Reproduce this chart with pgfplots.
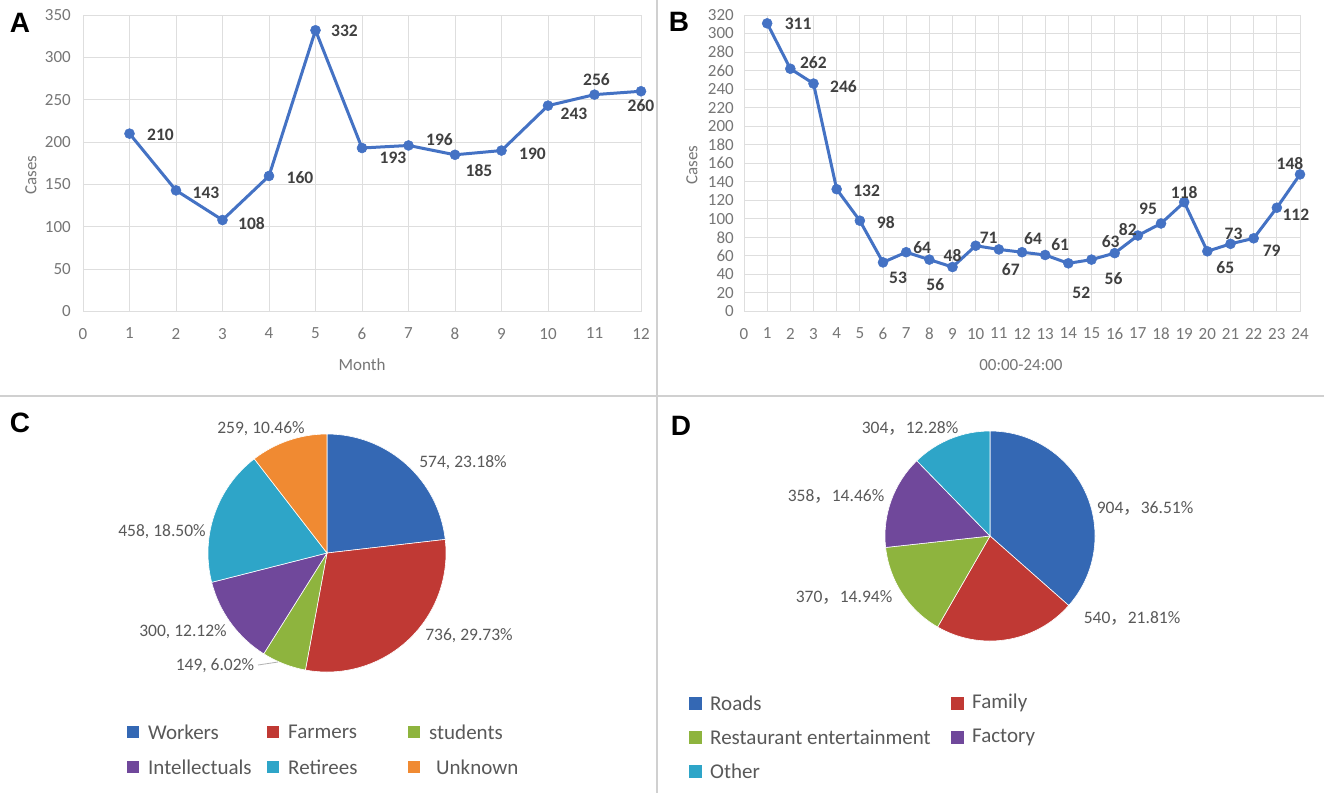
\documentclass[border=0pt]{standalone}
\usepackage{pgfplots}
\pgfplotsset{compat=1.18}
\usepackage{pgfplotstable}
\usepackage{fontspec}
\setmainfont{Carlito}
\newfontfamily\letterfont{Liberation Sans}
\newfontfamily\cjk{Noto Sans CJK SC}
\definecolor{lineblue}{RGB}{68,114,196}
\definecolor{gridc}{RGB}{222,222,222}
\definecolor{tickc}{RGB}{118,118,118}
\definecolor{labc}{RGB}{64,64,64}
\definecolor{pietxt}{RGB}{89,89,89}
\definecolor{divc}{RGB}{208,208,208}
\definecolor{pBlue}{RGB}{52,104,180}
\definecolor{pRed}{RGB}{192,57,52}
\definecolor{pGreen}{RGB}{142,180,62}
\definecolor{pPurple}{RGB}{112,72,155}
\definecolor{pAqua}{RGB}{46,165,200}
\definecolor{pOrange}{RGB}{240,138,50}

\pgfplotstableread{
x y dx up
1 210 31 -1
2 143 30 -2
3 108 29 -4
4 160 31 -2
5 332 29 -1
6 193 31 -10
7 196 31 6
8 185 24 -16
9 190 31 -3
10 243 26 -8
11 256 2 15
12 260 0 -14
}\dataA

\pgfplotstableread{
x y dx up
1 311 31 0
2 262 23 6
3 246 30 -3
4 132 30 -2
5 98 26 -2
6 53 15 -15
7 64 16 5
8 56 6 -25
9 48 0 12
10 71 13 8
11 67 12 -20
12 64 11 14
13 61 15 10
14 52 13 -29
15 56 22 -19
16 63 -4 12
17 82 -10 6
18 95 -13 15
19 118 0 10
20 65 18 -16
21 73 3 10
22 79 18 -12
23 112 19 -7
24 148 -10 11
}\dataB

\newcommand{\tickfont}{\fontsize{17}{20}\selectfont}
\pgfplotsset{
  linepanel/.style={
    scale only axis, anchor=south west,
    grid=major, grid style={gridc, line width=1pt},
    axis line style={draw=none}, major tick length=0pt,
    tick label style={font=\tickfont, text=tickc},
    /pgf/number format/assume math mode=true,
    xticklabel style={yshift=-13pt},
    label style={font=\tickfont, text=tickc},
    clip=false,
  },
  lineplot/.style={lineblue, line width=3pt, mark=*, mark size=5pt,
    mark options={fill=lineblue, draw=lineblue, line width=0.5pt},
    visualization depends on={\thisrow{dx} \as \dx},
    visualization depends on={\thisrow{up} \as \up},
    nodes near coords, point meta=explicit symbolic,
    every node near coord/.style={anchor=center, xshift=\dx pt, yshift=\up pt,
      font=\fontsize{17.5}{20}\selectfont\bfseries, text=labc, inner sep=0pt},
  },
  piepanel/.style={anchor=center, scale only axis, hide axis,
    xmin=-1, xmax=1, ymin=-1, ymax=1},
}

\begin{document}
\begin{tikzpicture}[x=1pt, y=-1pt]
\useasboundingbox (0,0) rectangle (1324,793);
\fill[white] (0,0) rectangle (1324,793);
\draw[divc, line width=2pt] (657,0) -- (657,793);
\draw[divc, line width=2pt] (0,396) -- (1324,396);

% ---------- A ----------
\begin{axis}[linepanel, at={(83pt,-311.5pt)}, width=558pt, height=296.5pt,
  xmin=0, xmax=12, ymin=0, ymax=350,
  xtick={0,...,12}, ytick={0,50,...,350},
  yticklabel style={xshift=-8.7pt},
  xlabel={Month}, ylabel={Cases},
  xlabel style={at={(axis description cs:0.5,-0.18)}, anchor=center},
  ylabel style={at={(axis description cs:-0.0932,0.46)}, anchor=center},
]
\addplot[lineplot] table[x=x, y=y, meta=y] {\dataA};
\end{axis}

% ---------- B ----------
\begin{axis}[linepanel, at={(744pt,-311.5pt)}, width=556pt, height=296.5pt,
  xmin=0, xmax=24, ymin=0, ymax=320,
  xtick={0,...,24}, ytick={0,20,...,320},
  yticklabel style={xshift=-6.7pt},
  xlabel={00:00-24:00}, ylabel={Cases},
  xlabel style={at={(axis description cs:0.498,-0.18)}, anchor=center},
  ylabel style={at={(axis description cs:-0.0935,0.494)}, anchor=center},
]
\addplot[lineplot] table[x=x, y=y, meta=y] {\dataB};
\end{axis}

% ---------- C ----------
\begin{axis}[piepanel, at={(327pt,-553pt)}, width=238pt, height=238pt]
\pgfplotsextra{
  \gdef\pieA{90}
  \foreach \v/\c in {574/pBlue, 736/pRed, 149/pGreen, 300/pPurple, 458/pAqua, 259/pOrange}{
    \pgfmathsetmacro\pieB{\pieA-\v/2476*360}
    \fill[\c, draw=white, line width=0.6pt] (axis cs:0,0) -- ++(\pieA:119pt)
      arc[start angle=\pieA, end angle=\pieB, radius=119pt] -- cycle;
    \xdef\pieA{\pieB}
  }
}
\end{axis}

% ---------- D ----------
\begin{axis}[piepanel, at={(990pt,-536pt)}, width=210pt, height=210pt]
\pgfplotsextra{
  \gdef\pieA{90}
  \foreach \v/\c in {904/pBlue, 540/pRed, 370/pGreen, 358/pPurple, 304/pAqua}{
    \pgfmathsetmacro\pieB{\pieA-\v/2476*360}
    \fill[\c, draw=white, line width=0.6pt] (axis cs:0,0) -- ++(\pieA:105pt)
      arc[start angle=\pieA, end angle=\pieB, radius=105pt] -- cycle;
    \xdef\pieA{\pieB}
  }
}
\end{axis}

% pie labels
\begin{scope}[every node/.style={font=\fontsize{17.5}{20}\selectfont, text=pietxt, inner sep=0pt}]
\node at (261,429) {259, 10.46\%};
\node at (463,463) {574, 23.18\%};
\node at (162,532) {458, 18.50\%};
\node at (183,632) {300, 12.12\%};
\node at (469,636) {736, 29.73\%};
\node at (215,666) {149, 6.02\%};
\node at (910,428) {304{\cjk ，}12.28\%};
\node at (1145,508) {904{\cjk ，}36.51\%};
\node at (1132,618) {540{\cjk ，}21.81\%};
\node at (844,597) {370{\cjk ，}14.94\%};
\node at (836,496) {358{\cjk ，}14.46\%};
\end{scope}
\draw[gray!60, line width=0.8pt] (258,665) -- (278,662);

% legends
\begin{scope}[every node/.style={font=\fontsize{21}{24}\selectfont, text=pietxt, inner sep=0pt, anchor=west}]
\foreach \x/\y/\c/\t/\g in {127/732/pBlue/Workers/21, 267/732/pRed/Farmers/21, 408/732/pGreen/students/21,
  127/767/pPurple/Intellectuals/21, 267/767/pAqua/Retirees/21, 408/767/pOrange/Unknown/28}{
  \fill[\c] (\x,\y-6) rectangle ++(12,12);
  \node at (\x+\g,\y) {\t};
}
\foreach \x/\y/\c/\t in {689/703/pBlue/Roads, 951/703/pRed/Family, 689/737/pGreen/Restaurant entertainment,
  951/737/pPurple/Factory, 689/771/pAqua/Other}{
  \fill[\c] (\x,\y-6.5) rectangle ++(13,13);
  \node at (\x+21,\y) {\t};
}
\end{scope}

% panel letters
\begin{scope}[every node/.style={font=\letterfont\bfseries\fontsize{28}{30}\selectfont, inner sep=0pt}]
\node at (20,23) {A};
\node at (679,22) {B};
\node at (20,423) {C};
\node at (681,426) {D};
\end{scope}
\end{tikzpicture}
\end{document}
